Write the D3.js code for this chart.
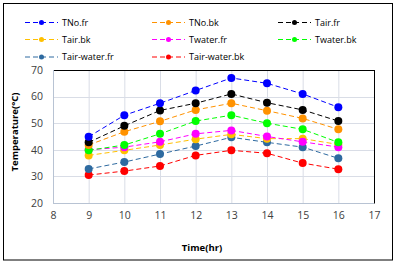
<!DOCTYPE html>
<html>
<head>
<meta charset="utf-8">
<script src="https://cdn.jsdelivr.net/npm/d3@7"></script>
<style>
  body { margin: 0; background: #fff; }
  text { font-family: "Open Sans", "Liberation Sans", sans-serif; }
</style>
</head>
<body>
<script>
let width = 396,
    height = 265;

// data
let hours = [9, 10, 11, 12, 13, 14, 15, 16];
let seriesNames = ["TNo.fr", "TNo.bk", "Tair.fr", "Tair.bk", "Twater.fr", "Twater.bk", "Tair-water.fr", "Tair-water.bk"];
let seriesColors = ["#0000ff", "#ff9200", "#000000", "#ffc000", "#ff00ff", "#00ff00", "#2e6aa0", "#ff0000"];
let tnoFr = [44.9, 53, 57.5, 62.3, 67, 65, 61, 56];
let tnoBk = [41.8, 46.8, 50.7, 55, 57.5, 54.7, 51.8, 47.7];
let tairFr = [42.8, 49, 54.8, 57.5, 61, 57.7, 55, 50.8];
let tairBk = [37.9, 39.8, 41.8, 44, 45.8, 44.2, 44.2, 42];
let twaterFr = [40, 41, 43, 46, 47.3, 45, 43, 41];
let twaterBk = [39.8, 41.8, 46, 50.8, 53, 50, 47.7, 42.8];
let tawFr = [32.8, 35.4, 38.4, 41.4, 44.7, 42.8, 41, 36.8];
let tawBk = [30.5, 32, 33.9, 37.9, 39.8, 38.7, 35, 32.7];
let allValues = [tnoFr, tnoBk, tairFr, tairBk, twaterFr, twaterBk, tawFr, tawBk];
let xTicks = [8, 9, 10, 11, 12, 13, 14, 15, 16, 17];
let yTicks = [20, 30, 40, 50, 60, 70];

// draw order (back to front) so the overlaps look like the picture
let drawOrder = [7, 6, 3, 4, 5, 1, 2, 0];

let svg = d3.select("body").append("svg")
    .attr("width", width)
    .attr("height", height);

// outer frame
svg.append("rect")
    .attr("x", 3.5).attr("y", 3.5)
    .attr("width", 389).attr("height", 256.5)
    .attr("fill", "#fff")
    .attr("stroke", "#000")
    .attr("stroke-width", 1);

let pLeft = 53, pRight = 374, pTop = 70, pBottom = 203;

let x = d3.scaleLinear().domain([8, 17]).range([pLeft, pRight]);
let y = d3.scaleLinear().domain([20, 70]).range([pBottom, pTop]);

// gridlines
svg.append("g")
    .selectAll("line.vg")
    .data(xTicks.slice(1))
    .enter().append("line")
    .attr("x1", d => x(d) + 0.5).attr("x2", d => x(d) + 0.5)
    .attr("y1", pTop).attr("y2", pBottom)
    .attr("stroke", "#d9dde6").attr("stroke-width", 1);

svg.append("g")
    .selectAll("line.hg")
    .data(yTicks.slice(0, -1))
    .enter().append("line")
    .attr("x1", pLeft).attr("x2", pRight)
    .attr("y1", d => Math.round(y(d)) + 0.5).attr("y2", d => Math.round(y(d)) + 0.5)
    .attr("stroke", "#d9dde6").attr("stroke-width", 1);

// plot border: black top/right, grey axis lines left/bottom
svg.append("line")
    .attr("x1", pLeft).attr("x2", pRight + 0.5)
    .attr("y1", pTop + 0.5).attr("y2", pTop + 0.5)
    .attr("stroke", "#000");
svg.append("line")
    .attr("x1", pRight + 0.5).attr("x2", pRight + 0.5)
    .attr("y1", pTop).attr("y2", pBottom + 0.5)
    .attr("stroke", "#000");
svg.append("line")
    .attr("x1", pLeft + 0.5).attr("x2", pLeft + 0.5)
    .attr("y1", pTop).attr("y2", pBottom)
    .attr("stroke", "#b8c3d3");
svg.append("line")
    .attr("x1", pLeft).attr("x2", pRight)
    .attr("y1", pBottom + 0.5).attr("y2", pBottom + 0.5)
    .attr("stroke", "#b8c3d3");

// axes built from d3 axes, then stripped of their lines
let xAxis = svg.append("g")
    .attr("transform", "translate(0," + pBottom + ")")
    .call(d3.axisBottom(x).tickValues(xTicks).tickSize(0).tickPadding(9));
let yAxis = svg.append("g")
    .attr("transform", "translate(" + pLeft + ",0)")
    .call(d3.axisLeft(y).tickValues(yTicks).tickSize(0).tickPadding(10));

[xAxis, yAxis].forEach(function(a) {
  a.select(".domain").remove();
  a.selectAll("text")
    .style("font-family", "'Open Sans', 'Liberation Sans', sans-serif")
    .style("font-size", "10.5px")
    .attr("fill", "#404040");
});

// axis titles
svg.append("text")
    .attr("x", 202).attr("y", 251)
    .attr("text-anchor", "middle")
    .style("font-size", "9.5px")
    .style("font-weight", "bold")
    .attr("fill", "#000")
    .text("Time(hr)");

svg.append("text")
    .attr("transform", "translate(18,132) rotate(-90)")
    .attr("text-anchor", "middle")
    .style("font-size", "9.5px")
    .style("font-weight", "bold")
    .attr("fill", "#000")
    .text("Temperature(°C)");

// series
let line = d3.line()
    .x(d => x(d[0]))
    .y(d => y(d[1]));

drawOrder.forEach(function(i) {
  let pts = hours.map((h, k) => [h, allValues[i][k]]);
  let g = svg.append("g");
  g.append("path")
      .datum(pts)
      .attr("d", line)
      .attr("fill", "none")
      .attr("stroke", seriesColors[i])
      .attr("stroke-width", 1)
      .attr("stroke-dasharray", "5,3");
  g.selectAll("circle")
      .data(pts)
      .enter().append("circle")
      .attr("cx", d => x(d[0]))
      .attr("cy", d => y(d[1]))
      .attr("r", 4)
      .attr("fill", seriesColors[i]);
});

// legend, 3 columns
let legCols = [25, 152, 278];
let legRows = [22.5, 39.5, 57];
seriesNames.forEach(function(name, i) {
  let lx = legCols[i % 3], ly = legRows[Math.floor(i / 3)];
  let g = svg.append("g");
  g.append("line")
      .attr("x1", lx).attr("x2", lx + 33)
      .attr("y1", ly).attr("y2", ly)
      .attr("stroke", seriesColors[i])
      .attr("stroke-width", 1)
      .attr("stroke-dasharray", "5,3");
  g.append("circle")
      .attr("cx", lx + 16.5).attr("cy", ly)
      .attr("r", 2.5)
      .attr("fill", seriesColors[i]);
  g.append("text")
      .attr("x", lx + 37).attr("y", ly + 3.2)
      .style("font-size", "9px")
      .attr("fill", "#000")
      .text(name);
});
</script>
</body>
</html>
